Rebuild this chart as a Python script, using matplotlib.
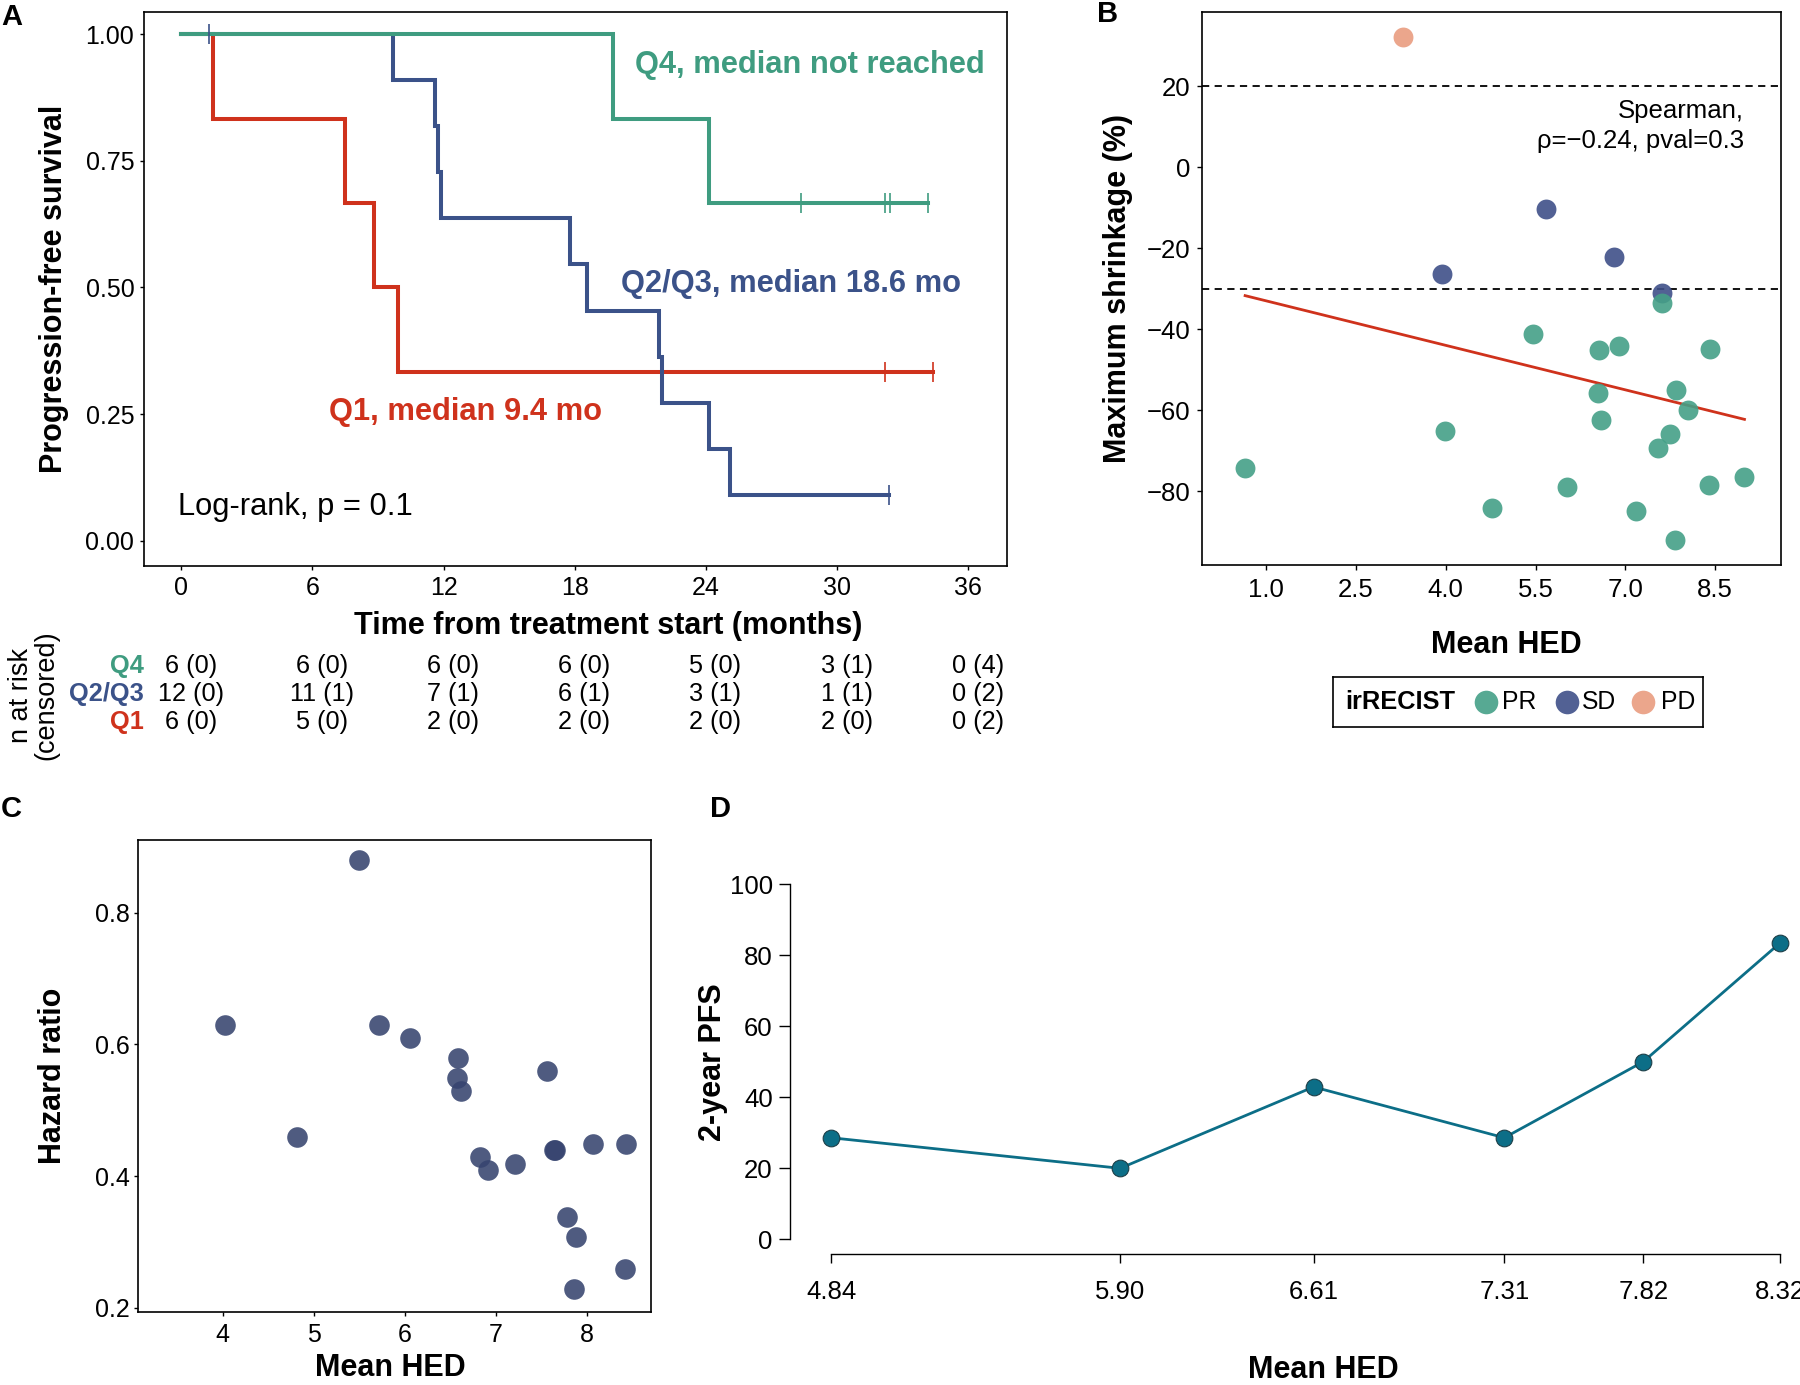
import numpy as np
import matplotlib
matplotlib.use('Agg')
import matplotlib.pyplot as plt
from matplotlib.transforms import blended_transform_factory

plt.rcParams['font.family'] = ['Liberation Sans', 'DejaVu Sans']

# ---------------- Panel A data (Kaplan-Meier) ----------------
q4_times = [19.77, 24.15, 28.38, 32.22, 32.43, 34.19]
q4_events = [1, 1, 0, 0, 0, 0]
q23_times = [1.25, 9.68, 11.61, 11.73, 11.88, 17.78, 18.58, 21.86, 21.98, 24.15, 25.10, 32.40]
q23_events = [0, 1, 1, 1, 1, 1, 1, 1, 1, 1, 1, 0]
q1_times = [1.43, 7.50, 8.81, 9.92, 32.19, 34.39]
q1_events = [1, 1, 1, 1, 0, 0]
group_names = ['Q4', 'Q2/Q3', 'Q1']
group_labels = ['Q4, median not reached', 'Q2/Q3, median 18.6 mo', 'Q1, median 9.4 mo']
group_label_pos = [(20.76, 0.939), (20.13, 0.506), (6.78, 0.254)]
risk_times = [0, 6, 12, 18, 24, 30, 36]
risk_q4 = ['6 (0)', '6 (0)', '6 (0)', '6 (0)', '5 (0)', '3 (1)', '0 (4)']
risk_q23 = ['12 (0)', '11 (1)', '7 (1)', '6 (1)', '3 (1)', '1 (1)', '0 (2)']
risk_q1 = ['6 (0)', '5 (0)', '2 (0)', '2 (0)', '2 (0)', '2 (0)', '0 (2)']
logrank_text = 'Log-rank, p = 0.1'

# ---------------- Panel B data ----------------
pr_hed = [0.65, 3.99, 4.78, 5.46, 6.03, 6.56, 6.54, 6.60, 6.89, 7.18, 7.54, 7.61,
          7.74, 7.85, 7.83, 8.04, 8.41, 8.39, 8.99]
pr_shrink = [-74.4, -65.1, -84.3, -41.3, -79.1, -45.1, -55.7, -62.4, -44.2, -84.8,
             -69.3, -33.5, -65.8, -55.1, -92.2, -59.9, -44.9, -78.5, -76.5]
sd_hed = [3.93, 5.68, 6.81, 7.61]
sd_shrink = [-26.4, -10.3, -22.3, -31.2]
pd_hed = [3.28]
pd_shrink = [32.0]
b_thresholds = [20, -30]
spearman_text = 'Spearman,\nρ=−0.24, pval=0.3'

# ---------------- Panel C data ----------------
c_hed = [5.50, 4.03, 5.72, 6.06, 6.59, 6.57, 6.62, 7.57, 4.82, 6.83, 6.92, 7.21,
         7.64, 7.65, 8.07, 8.43, 7.78, 7.88, 8.42, 7.86]
c_hr = [0.880, 0.629, 0.629, 0.609, 0.579, 0.549, 0.529, 0.559, 0.459, 0.429, 0.409,
        0.419, 0.439, 0.440, 0.449, 0.449, 0.338, 0.308, 0.259, 0.228]

# ---------------- Panel D data ----------------
d_hed = [4.84, 5.90, 6.61, 7.31, 7.82, 8.32]
d_pfs = [28.6, 20.0, 42.9, 28.6, 50.0, 83.3]

# colours
C_Q4 = '#3F9C80'
C_Q23 = '#3B5289'
C_Q1 = '#CF321C'
C_PR = '#45A087'
C_SD = '#3F5089'
C_PD = '#E99C80'
C_C = '#36446F'
C_D = '#0C6E87'

W, H = 1800, 1385
fig = plt.figure(figsize=(W / 100, H / 100), dpi=100)


def fr(left, top, right, bottom):
    return [left / W, 1 - bottom / H, (right - left) / W, (bottom - top) / H]


def km(times, events):
    t = np.asarray(times, float)
    e = np.asarray(events, int)
    o = np.argsort(t)
    t, e = t[o], e[o]
    xs, ys, cx, cy = [0.0], [1.0], [], []
    s = 1.0
    n = len(t)
    for ut in np.unique(t):
        m = t == ut
        d = e[m].sum()
        c = m.sum() - d
        if d > 0:
            s *= 1 - d / n
        xs.append(ut)
        ys.append(s)
        if c > 0:
            cx.append(ut)
            cy.append(s)
        n -= m.sum()
    return np.array(xs), np.array(ys), cx, cy


# ================= Panel A =================
axA = fig.add_axes(fr(143.5, 11.5, 1006.8, 566))
groups = [(q1_times, q1_events, C_Q1), (q23_times, q23_events, C_Q23), (q4_times, q4_events, C_Q4)]
cens = []
for t, e, c in groups:
    xs, ys, cx, cy = km(t, e)
    axA.step(xs, ys, where='post', color=c, lw=2.9, solid_joinstyle='miter')
    cens.append((cx, cy, c))
for cx, cy, c in cens:
    axA.plot(cx, cy, linestyle='none', marker='|', markersize=14, mew=1.2, color=c)

for lab, (x, y), c in zip(group_labels, group_label_pos, [C_Q4, C_Q23, C_Q1]):
    axA.text(x, y, lab, color=c, fontsize=22.2, fontweight='bold', ha='left', va='center')
axA.text(-0.16, 0.066, logrank_text, fontsize=22.2, ha='left', va='center')

axA.set_xlim(-1.73, 37.78)
axA.set_ylim(-0.05, 1.045)
axA.set_xticks(risk_times)
axA.set_yticks([0, 0.25, 0.5, 0.75, 1.0])
axA.set_yticklabels(['%.2f' % v for v in [0, 0.25, 0.5, 0.75, 1.0]])
axA.tick_params(labelsize=18, length=3, width=1, pad=4)
axA.tick_params(axis='y', pad=3.6)
for s in axA.spines.values():
    s.set_linewidth(1.2)
axA.set_xlabel('Time from treatment start (months)', fontsize=22, fontweight='bold')
axA.xaxis.set_label_coords(0.5385, -0.081)
axA.set_ylabel('Progression-free survival', fontsize=22, fontweight='bold')
axA.yaxis.set_label_coords(-0.086, 0.5)

# risk table
trans = blended_transform_factory(axA.transData, fig.transFigure)
row_y = [666, 694, 722]
for name, rows, c, ypx in zip(group_names, [risk_q4, risk_q23, risk_q1],
                              [C_Q4, C_Q23, C_Q1], row_y):
    yf = 1 - ypx / H
    fig.text(144 / W, yf, name, color=c, fontsize=18.3, fontweight='bold',
             ha='right', va='center')
    for t, v in zip(risk_times, rows):
        axA.text(t + 0.45, yf, v, transform=trans, fontsize=18.2, ha='center',
                 va='center', clip_on=False)
fig.text(34 / W, 1 - 695 / H, 'n at risk\n(censored)', rotation=90, fontsize=19.5,
         ha='center', va='center', multialignment='center', linespacing=0.95)

# ================= Panel B =================
axB = fig.add_axes(fr(1202, 11.5, 1781, 564.8))
for yv in b_thresholds:
    axB.axhline(yv, color='black', lw=1.3, ls=(0, (4, 3)))
all_x = np.array(pr_hed + sd_hed + pd_hed)
all_y = np.array(pr_shrink + sd_shrink + pd_shrink)
coef = np.polyfit(all_x, all_y, 1)
xl = np.array([all_x.min(), all_x.max()])
axB.plot(xl, np.polyval(coef, xl), color=C_Q1, lw=2.0)
axB.scatter(sd_hed, sd_shrink, s=205, color=C_SD, alpha=0.9, linewidths=0, zorder=3)
axB.scatter(pd_hed, pd_shrink, s=205, color=C_PD, alpha=0.9, linewidths=0, zorder=3)
axB.scatter(pr_hed, pr_shrink, s=205, color=C_PR, alpha=0.9, linewidths=0, zorder=3)
axB.text(8.98, 10.1, spearman_text, fontsize=18.5, ha='right', va='center',
         multialignment='right', linespacing=1.3)
axB.set_xlim(-0.07, 9.6)
axB.set_ylim(-98.2, 38.4)
axB.set_xticks([1.0, 2.5, 4.0, 5.5, 7.0, 8.5])
axB.set_xticklabels(['%.1f' % v for v in [1.0, 2.5, 4.0, 5.5, 7.0, 8.5]])
axB.set_yticks([20, 0, -20, -40, -60, -80])
axB.tick_params(labelsize=18.5, length=3.6, width=1)
axB.tick_params(axis='x', pad=6)
axB.tick_params(axis='y', pad=4.7)
for s in axB.spines.values():
    s.set_linewidth(1.2)
axB.set_xlabel('Mean HED', fontsize=22, fontweight='bold')
axB.xaxis.set_label_coords(0.526, -0.118)
axB.set_ylabel('Maximum shrinkage (%)', fontsize=22, fontweight='bold')
axB.yaxis.set_label_coords(-0.1193, 0.5)

# legend for B
axL = fig.add_axes(fr(1333, 677, 1703, 727))
axL.set_xlim(0, 1)
axL.set_ylim(0, 1)
axL.set_xticks([])
axL.set_yticks([])
for s in axL.spines.values():
    s.set_linewidth(1.2)
axL.text(0.032, 0.5, 'irRECIST', fontsize=18.3, fontweight='bold', ha='left', va='center')
for mx, tx, lab, c in [(0.413, 0.456, 'PR', C_PR), (0.633, 0.672, 'SD', C_SD),
                       (0.837, 0.886, 'PD', C_PD)]:
    axL.plot([mx], [0.5], marker='o', markersize=17, color=c, alpha=0.9, mew=0)
    axL.text(tx, 0.5, lab, fontsize=17.8, ha='left', va='center')

# ================= Panel C =================
axC = fig.add_axes(fr(138.3, 839.8, 650.9, 1312.2))
axC.scatter(c_hed, c_hr, s=220, color=C_C, alpha=0.88, linewidths=0, zorder=3)
axC.set_xlim(3.072, 8.707)
axC.set_ylim(0.193, 0.911)
axC.set_xticks([4, 5, 6, 7, 8])
axC.set_yticks([0.2, 0.4, 0.6, 0.8])
axC.set_yticklabels(['0.2', '0.4', '0.6', '0.8'])
axC.tick_params(labelsize=18, length=3, width=1)
axC.tick_params(axis='x', pad=5)
axC.tick_params(axis='y', pad=2.8)
for s in axC.spines.values():
    s.set_linewidth(1.2)
axC.set_xlabel('Mean HED', fontsize=22, fontweight='bold')
axC.xaxis.set_label_coords(0.491, -0.086)
axC.set_ylabel('Hazard ratio', fontsize=22, fontweight='bold')
axC.yaxis.set_label_coords(-0.137, 0.5)

# ================= Panel D =================
axD = fig.add_axes(fr(789.8, 869.8, 1800, 1253.6))
axD.plot(d_hed, d_pfs, color=C_D, lw=2.0, marker='o', markersize=12,
         markerfacecolor=C_D, markeredgecolor='#1d3f48', markeredgewidth=0.8,
         clip_on=False)
axD.set_xlim(4.688, 8.395)
axD.set_ylim(-4, 104)
axD.spines['top'].set_visible(False)
axD.spines['right'].set_visible(False)
axD.spines['left'].set_bounds(0, 100)
axD.spines['bottom'].set_bounds(d_hed[0], d_hed[-1])
axD.spines['left'].set_linewidth(1.0)
axD.spines['bottom'].set_linewidth(1.0)
axD.set_xticks(d_hed)
axD.set_xticklabels(['%.2f' % v for v in d_hed])
axD.set_yticks([0, 20, 40, 60, 80, 100])
axD.tick_params(labelsize=18.5, width=1)
axD.tick_params(axis='x', length=6.6, pad=12.3)
axD.tick_params(axis='y', length=7.7, pad=4.5)
axD.set_xlabel('Mean HED', fontsize=22, fontweight='bold')
axD.xaxis.set_label_coords(0.528, -0.264)
axD.set_ylabel('2-year PFS', fontsize=22, fontweight='bold')
axD.yaxis.set_label_coords(-0.0608, 0.5)

# panel letters
for lab, x, y in [('A', 11.5, 17), ('B', 1108, 14), ('C', 11.5, 809), ('D', 721, 809)]:
    fig.text(x / W, 1 - y / H, lab, fontsize=21, fontweight='bold', ha='center', va='center')

fig.savefig('out.png', dpi=100)
